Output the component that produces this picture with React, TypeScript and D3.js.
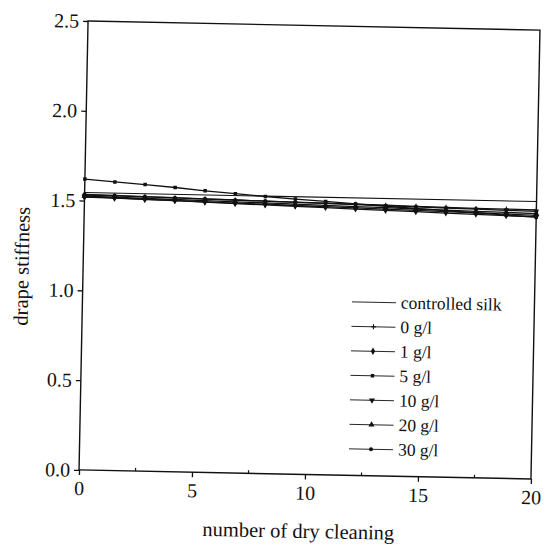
import React, { useEffect, useRef } from "react";
import * as d3 from "d3";

// drape stiffness vs number of dry cleaning (scanned figure, slightly tilted)

const xValues = [0, 1.33, 2.67, 4, 5.33, 6.67, 8, 9.33, 10.67, 12, 13.33, 14.67, 16, 17.33, 18.67, 20];

const controlledX = [0, 20];
const controlledY = [1.545, 1.545];

const s0 = [1.53, 1.53, 1.527, 1.525, 1.522, 1.52, 1.517, 1.515, 1.512, 1.51, 1.508, 1.505, 1.503, 1.5, 1.5, 1.498];
const s1 = [1.52, 1.517, 1.514, 1.51, 1.506, 1.503, 1.5, 1.496, 1.493, 1.49, 1.486, 1.482, 1.479, 1.476, 1.472, 1.468];
const s5 = [1.62, 1.607, 1.596, 1.583, 1.568, 1.555, 1.543, 1.532, 1.522, 1.512, 1.502, 1.493, 1.484, 1.475, 1.466, 1.458];
const s10 = [1.522, 1.518, 1.514, 1.51, 1.505, 1.5, 1.496, 1.492, 1.488, 1.483, 1.479, 1.475, 1.471, 1.467, 1.463, 1.46];
const s20 = [1.525, 1.522, 1.519, 1.516, 1.513, 1.51, 1.507, 1.504, 1.5, 1.497, 1.494, 1.49, 1.487, 1.484, 1.481, 1.478];
const s30 = [1.535, 1.532, 1.529, 1.526, 1.523, 1.52, 1.517, 1.514, 1.511, 1.508, 1.505, 1.502, 1.499, 1.496, 1.493, 1.49];

const seriesNames = ["0 g/l", "1 g/l", "5 g/l", "10 g/l", "20 g/l", "30 g/l"];
const seriesValues = [s0, s1, s5, s10, s20, s30];
const seriesMarkers = ["plus", "diamond", "square", "triangleDown", "triangleUp", "circle"];

const xTicks = [0, 5, 10, 15, 20];
const xMinorTicks = [2.5, 7.5, 12.5, 17.5];
const yTicks = [0.0, 0.5, 1.0, 1.5, 2.0, 2.5];

const SERIF = "Liberation Serif, DejaVu Serif, serif";

function App() {
  const ref = useRef<SVGSVGElement>(null);

  useEffect(() => {
    const W = 553, H = 545;
    const left = 83.5, top = 25.5, w = 452, h = 449;
    const cx = left + w / 2, cy = top + h / 2;

    const svg = d3.select(ref.current).attr("width", W).attr("height", H);
    svg.selectAll("*").remove();
    svg.append("rect").attr("width", W).attr("height", H).attr("fill", "#fff");

    const g = svg.append("g").attr("transform", `rotate(1.15, ${cx}, ${cy})`)
      .attr("fill", "#111");

    const x = d3.scaleLinear().domain([0, 20]).range([left, left + w]);
    const y = d3.scaleLinear().domain([0, 2.5]).range([top + h, top]);

    // frame
    g.append("rect").attr("x", left).attr("y", top).attr("width", w).attr("height", h)
      .attr("fill", "none").attr("stroke", "#111").attr("stroke-width", 1.4);

    // left axis
    const ya = g.append("g").attr("transform", `translate(${left},0)`)
      .call(d3.axisLeft(y).tickValues(yTicks).tickSize(5).tickPadding(4).tickFormat(d3.format(".1f")));
    ya.select(".domain").remove();
    ya.selectAll("line").attr("stroke", "#111").attr("stroke-width", 1.3);
    ya.selectAll("text").attr("fill", "#111");

    // bottom axis
    const xa = g.append("g").attr("transform", `translate(0,${top + h})`)
      .call(d3.axisBottom(x).tickValues(xTicks).tickSize(5).tickPadding(6).tickFormat(d3.format("d")));
    xa.select(".domain").remove();
    xa.selectAll("line").attr("stroke", "#111").attr("stroke-width", 1.3);
    xa.selectAll("text").attr("fill", "#111");

    g.selectAll(".minor").data(xMinorTicks).join("line").attr("class", "minor")
      .attr("x1", d => x(d)).attr("x2", d => x(d))
      .attr("y1", top + h).attr("y2", top + h - 3)
      .attr("stroke", "#111").attr("stroke-width", 1.2);

    // titles
    g.append("text").attr("class", "lbl t").attr("x", 304).attr("y", 538).attr("text-anchor", "middle")
      .text("number of dry cleaning");
    g.append("text").attr("class", "lbl t").attr("transform", "translate(29,272) rotate(-90)").attr("text-anchor", "middle")
      .text("drape stiffness");

    const line = d3.line<[number, number]>().x(d => x(d[0])).y(d => y(d[1]));

    const drawMarker = (sel: any, kind: string, px: number, py: number) => {
      const sym: any = {
        diamond: d3.symbolDiamond, square: d3.symbolSquare,
        triangleDown: d3.symbolTriangle, triangleUp: d3.symbolTriangle, circle: d3.symbolCircle,
      };
      if (kind === "plus") {
        sel.append("path").attr("d", `M${px - 2.5},${py}H${px + 2.5}M${px},${py - 2.5}V${py + 2.5}`)
          .attr("stroke", "#111").attr("stroke-width", 1.1);
        return;
      }
      const size = kind === "circle" ? 13 : kind === "square" ? 12 : 16;
      sel.append("path").attr("d", d3.symbol().type(sym[kind]).size(size)())
        .attr("transform", `translate(${px},${py})${kind === "triangleDown" ? " rotate(180)" : ""}`)
        .attr("fill", "#111");
    };

    // controlled silk
    g.append("path").datum(controlledX.map((v, i) => [v, controlledY[i]] as [number, number]))
      .attr("d", line).attr("fill", "none").attr("stroke", "#111").attr("stroke-width", 1.1);

    seriesValues.forEach((vals, k) => {
      const pts = xValues.map((v, i) => [v, vals[i]] as [number, number]);
      g.append("path").datum(pts).attr("d", line).attr("fill", "none")
        .attr("stroke", "#111").attr("stroke-width", 1.3);
      const mg = g.append("g");
      pts.forEach(p => drawMarker(mg, seriesMarkers[k], x(p[0]), y(p[1])));
    });

    // legend
    const lx1 = 353, lx2 = 397, ltx = 402, ly0 = 301, lstep = 24.5;
    const names = ["controlled silk", ...seriesNames];
    names.forEach((n, i) => {
      const yy = ly0 + i * lstep;
      g.append("line").attr("x1", lx1).attr("x2", lx2).attr("y1", yy).attr("y2", yy)
        .attr("stroke", "#111").attr("stroke-width", 0.9);
      if (i > 0) drawMarker(g, seriesMarkers[i - 1], (lx1 + lx2) / 2, yy);
      g.append("text").attr("class", "lbl").attr("x", ltx).attr("y", yy).attr("dy", "0.33em")
        .style("font-size", "17.5px").text(n);
    });

    svg.selectAll("text")
      .style("font-family", SERIF)
      .style("fill", "#111");
    svg.selectAll(".tick text").style("font-size", "20px");
    svg.selectAll(".t").style("font-size", "20.5px");
  }, []);

  return (
    <svg ref={ref} style={{ position: "absolute", left: 0, top: 0 }}></svg>
  );
}

export default App;
